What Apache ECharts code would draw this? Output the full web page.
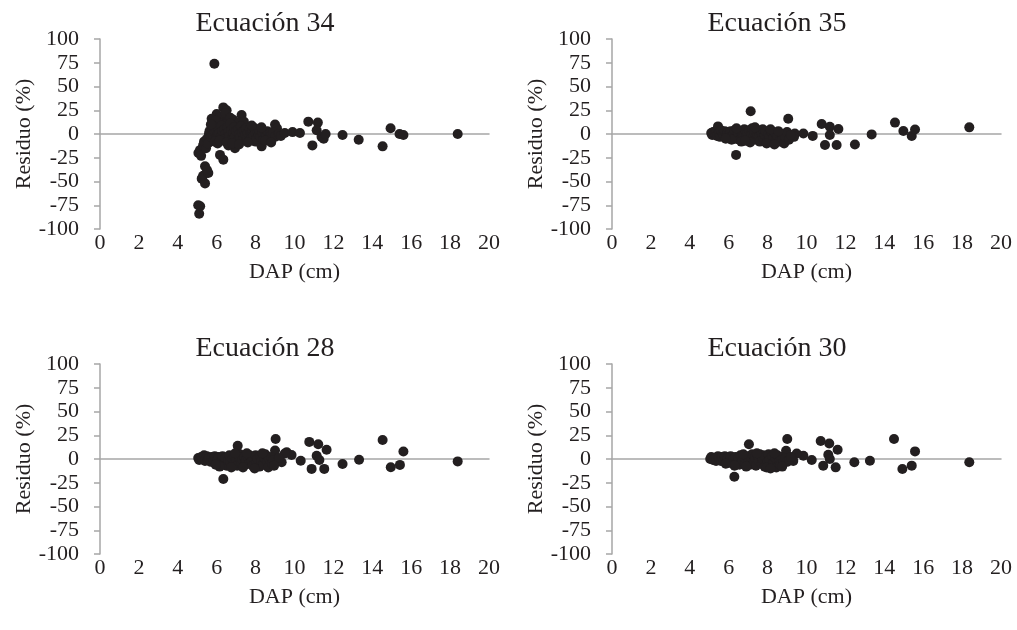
<!DOCTYPE html>
<html>
<head>
<meta charset="utf-8">
<script src="https://cdn.jsdelivr.net/npm/echarts@6/dist/echarts.min.js"></script>
<style>
html,body{margin:0;padding:0;background:#fff;}
#c{width:1017px;height:630px;}
</style>
</head>
<body>
<div id="c"></div>
<script>
// ---- data ----
const titles = ['Ecuación 34', 'Ecuación 35', 'Ecuación 28', 'Ecuación 30'];
const xName = 'DAP (cm)';
const yName = 'Residuo (%)';

const eq34 = [
  [5.05,-75],[5.1,-84],[5.15,-76],
  [5.23,-47],[5.4,-52],[5.3,-44],[5.57,-41],[5.4,-34],[5.5,-38],
  [5.06,-20],[5.14,-17],[5.2,-23],[5.3,-12],[5.35,-8],[5.45,-15],[5.5,-5],[5.55,-10],
  [6.17,-22],[6.34,-27],[6.94,-15],[6.6,-12],[8.31,-13],[8.0,-8],
  [5.88,74],[6.34,28],[6.51,25],[6.0,21],[7.28,20],[6.85,15],[5.74,16],[6.2,18],[6.1,12],
  [6.6,14],[6.4,10],[7.1,12],[9.0,10],[9.1,6],[6.45,22],[6.7,17],[7.4,13],[5.95,14],
  [5.6,0],[5.63,3],[5.7,-3],[5.76,5],[5.8,-1],[5.84,8],[5.9,2],[5.97,-4],[6.0,4],[6.06,-1],
  [6.1,6],[6.13,1],[6.22,-3],[6.25,9],[6.3,3],[6.37,-6],[6.4,5],[6.44,0],[6.5,-4],[6.56,7],
  [6.6,2],[6.66,-2],[6.7,11],[6.74,4],[6.8,-5],[6.86,1],[6.9,7],[6.93,-3],[7.0,3],[7.04,-8],
  [7.1,5],[7.16,0],[7.2,-4],[7.24,8],[7.3,2],[7.36,-6],[7.4,4],[7.47,-1],[7.5,6],[7.55,-3],
  [7.6,1],[7.66,-7],[7.7,5],[7.76,0],[7.8,-4],[7.84,3],[7.9,-2],[7.96,6],[8.0,1],[8.05,-5],
  [8.1,3],[8.16,-1],[8.2,4],[8.25,-3],[8.35,2],[8.4,-6],[8.5,1],[8.55,-2],[8.6,3],[8.7,-4],
  [8.75,1],[8.8,-1],[8.9,2],[9.0,-3],[9.2,0],[9.3,-2],[5.7,10],[5.9,-8],[6.05,-10],
  [6.15,-7],[6.5,-9],[6.8,-10],[7.15,-11],[7.6,-9],[8.5,-7],[8.8,-9],[7.8,9],[8.3,7],
  [9.5,1],[9.9,2],[10.28,1],
  [10.71,13],[11.2,12],[10.92,-12],[11.14,4],[11.39,-3],[11.5,-5],[11.6,0],[12.47,-1],
  [13.3,-6],[14.53,-13],[14.94,6],[15.4,0],[15.6,-1],[18.39,0]
];

const eq35 = [
  [7.13,24],[9.06,16],[6.38,-22],
  [10.78,10.5],[11.2,7.7],[11.64,5.3],[11.2,-1],[10.95,-11.6],[11.55,-11.6],[12.49,-11],
  [13.35,-0.4],[14.55,12],[14.98,3.2],[15.41,-2],[15.58,4.8],[18.37,7],[10.32,-2],
  [9.84,0.6],[9.4,0.6],[9.36,-3],
  [5.1,1],[5.15,-1],[5.2,2],[5.3,0],[5.35,3],[5.4,-2],[5.45,8],[5.5,1],[5.55,-3],[5.6,4],
  [5.7,0],[5.75,-2],[5.8,3],[5.9,-1],[5.95,2],[6.0,-4],[6.05,1],[6.1,3],[6.2,-2],[6.25,0],
  [6.3,4],[6.35,-5],[6.45,2],[6.5,-1],[6.55,-6],[6.6,3],[6.7,0],[6.75,-3],[6.8,5],[6.9,-2],
  [6.95,1],[7.0,-7],[7.05,4],[7.15,-1],[7.2,6],[7.25,-4],[7.3,2],[7.4,-6],[7.45,0],[7.5,4],
  [7.55,-3],[7.6,-8],[7.7,1],[7.75,5],[7.8,-5],[7.85,-1],[7.9,3],[8.0,-7],[8.05,0],[8.1,-3],
  [8.2,2],[8.25,-9],[8.3,-4],[8.4,1],[8.45,-6],[8.5,-2],[8.6,-8],[8.7,0],[8.75,-5],[8.85,-10],
  [8.9,-3],[9.0,2],[9.1,-6],[9.2,-1],
  [6.15,-6],[6.65,-8],[7.1,-9],[7.35,7],[7.95,-10],[8.15,5],[8.55,3],[6.85,-7],[8.35,-11],
  [5.85,-5],[6.4,6]
];

const eq28 = [
  [9.03,21],[9.0,9],[7.08,14],[6.34,-21],[9.6,7],
  [10.76,18],[11.22,15.6],[11.65,9.8],[11.14,3.4],[11.28,-1],[10.88,-10.4],[11.53,-10.4],
  [12.47,-5.2],[13.32,-0.7],[14.53,20],[14.95,-8.7],[15.42,-6.2],[15.6,7.9],[18.39,-2.5],
  [10.32,-1.8],[9.85,4.2],[9.5,5.7],[9.34,-3.5],
  [5.05,1],[5.1,-1],[5.2,2],[5.25,0],[5.35,4],[5.4,-2],[5.5,3],[5.55,-1],[5.6,1],[5.7,-3],
  [5.75,2],[5.85,-1],[5.9,3],[6.0,-4],[6.05,0],[6.1,2],[6.2,-6],[6.25,-2],[6.3,3],[6.4,-4],
  [6.45,1],[6.5,-7],[6.6,-1],[6.65,4],[6.7,-3],[6.8,0],[6.85,-6],[6.9,3],[7.0,-2],[7.05,-7],
  [7.15,1],[7.2,5],[7.25,-4],[7.3,0],[7.4,3],[7.45,-6],[7.5,-1],[7.6,2],[7.65,-5],[7.7,4],
  [7.8,-2],[7.85,-7],[7.9,1],[8.0,4],[8.05,-4],[8.1,0],[8.2,-8],[8.25,3],[8.3,-2],[8.4,-6],
  [8.45,1],[8.5,5],[8.6,-3],[8.65,-9],[8.7,0],[8.8,2],[8.85,-5],[8.9,-1],[9.2,1],
  [6.15,-8],[6.75,-9],[7.35,-9],[7.95,-10],[8.35,6],[7.55,6],[6.95,6],[8.95,-7],[5.95,-6]
];

const eq30 = [
  [7.04,15.6],[9.01,21],[8.95,8.7],[6.29,-18.7],
  [10.73,19],[11.17,16.3],[11.6,9.7],[11.12,4.5],[11.2,0],[10.86,-7],[11.5,-8.8],
  [12.46,-3.5],[13.26,-1.8],[14.5,21],[14.93,-10.5],[15.41,-7],[15.58,8],[18.37,-3.5],
  [10.27,-1],[9.84,3.5],[9.5,5.8],[9.32,-2],
  [5.05,0],[5.1,2],[5.2,-1],[5.3,1],[5.35,-2],[5.45,3],[5.5,0],[5.6,-2],[5.65,2],[5.75,-1],
  [5.8,3],[5.9,-3],[5.95,1],[6.05,-2],[6.1,3],[6.2,-5],[6.25,0],[6.35,2],[6.4,-4],[6.5,1],
  [6.55,-6],[6.6,4],[6.7,-2],[6.8,1],[6.85,-5],[6.95,3],[7.0,-1],[7.1,-6],[7.15,2],[7.2,5],
  [7.3,-3],[7.35,1],[7.4,-7],[7.5,3],[7.55,-2],[7.6,5],[7.7,-5],[7.75,0],[7.8,4],[7.85,-8],
  [7.9,2],[8.0,-3],[8.05,5],[8.1,-1],[8.2,-7],[8.25,3],[8.3,-4],[8.4,1],[8.45,-9],[8.5,4],
  [8.6,-2],[8.65,-6],[8.7,2],[8.8,-4],[8.9,1],[9.0,-3],[9.1,-1],[9.2,2],
  [6.3,-7],[6.9,-8],[7.45,6],[7.95,-9],[8.35,6],[8.75,-8],[6.75,5],[8.15,-10],[5.85,-5]
];

const panels = [eq34, eq35, eq28, eq30];
const xTicks = [0, 20, 2];      // min, max, interval
const yTicks = [-100, 100, 25]; // min, max, interval

// ---- layout ----
const FONT = 'Liberation Serif';
const TXT = '#231f20';
const GRAY = '#a6a6a6';
const gridPos = [
  {left: 100, top: 39},
  {left: 612, top: 39},
  {left: 100, top: 364},
  {left: 612, top: 364}
];
const GW = 389, GH = 190;

const option = {
  animation: false,
  backgroundColor: '#fff',
  title: [], grid: [], xAxis: [], yAxis: [], series: []
};

panels.forEach((data, i) => {
  const g = gridPos[i];
  option.title.push({
    text: titles[i],
    left: g.left + 160, top: g.top - 34,
    textAlign: 'center',
    textStyle: {fontFamily: FONT, fontSize: 28, fontWeight: 'normal', color: TXT}
  });
  option.grid.push({left: g.left, top: g.top, width: GW, height: GH, containLabel: false});
  option.xAxis.push({
    type: 'value', gridIndex: i, min: xTicks[0], max: xTicks[1], interval: xTicks[2],
    position: 'bottom',
    axisLine: {show: false, onZero: false},
    axisTick: {show: false},
    splitLine: {show: false},
    axisLabel: {fontFamily: FONT, fontSize: 22, color: TXT, margin: 3},
    name: xName, nameLocation: 'middle', nameGap: 32,
    nameTextStyle: {fontFamily: FONT, fontSize: 22, color: TXT}
  });
  option.yAxis.push({
    type: 'value', gridIndex: i, min: yTicks[0], max: yTicks[1], interval: yTicks[2],
    axisLine: {show: true, onZero: false, lineStyle: {color: GRAY, width: 1.5}},
    axisTick: {show: true, inside: false, length: 6, lineStyle: {color: GRAY, width: 1.5}},
    splitLine: {show: false},
    axisLabel: {fontFamily: FONT, fontSize: 22, color: TXT, margin: 21},
    name: yName, nameLocation: 'middle', nameGap: 60, nameRotate: 90,
    nameTextStyle: {fontFamily: FONT, fontSize: 22, color: TXT}
  });
});
// zero lines: extra x axes sitting on y = 0
panels.forEach((data, i) => {
  option.xAxis.push({
    type: 'value', gridIndex: i, min: xTicks[0], max: xTicks[1],
    position: 'top',
    axisLine: {show: true, onZero: true, lineStyle: {color: GRAY, width: 1.5}},
    axisTick: {show: false}, axisLabel: {show: false}, splitLine: {show: false}
  });
});
panels.forEach((data, i) => {
  option.series.push({
    type: 'scatter', xAxisIndex: i, yAxisIndex: i,
    data: data, symbol: 'circle', symbolSize: 10,
    itemStyle: {color: TXT, opacity: 1}
  });
});

const chart = echarts.init(document.getElementById('c'), null, {renderer: 'canvas'});
chart.setOption(option);
</script>
</body>
</html>
